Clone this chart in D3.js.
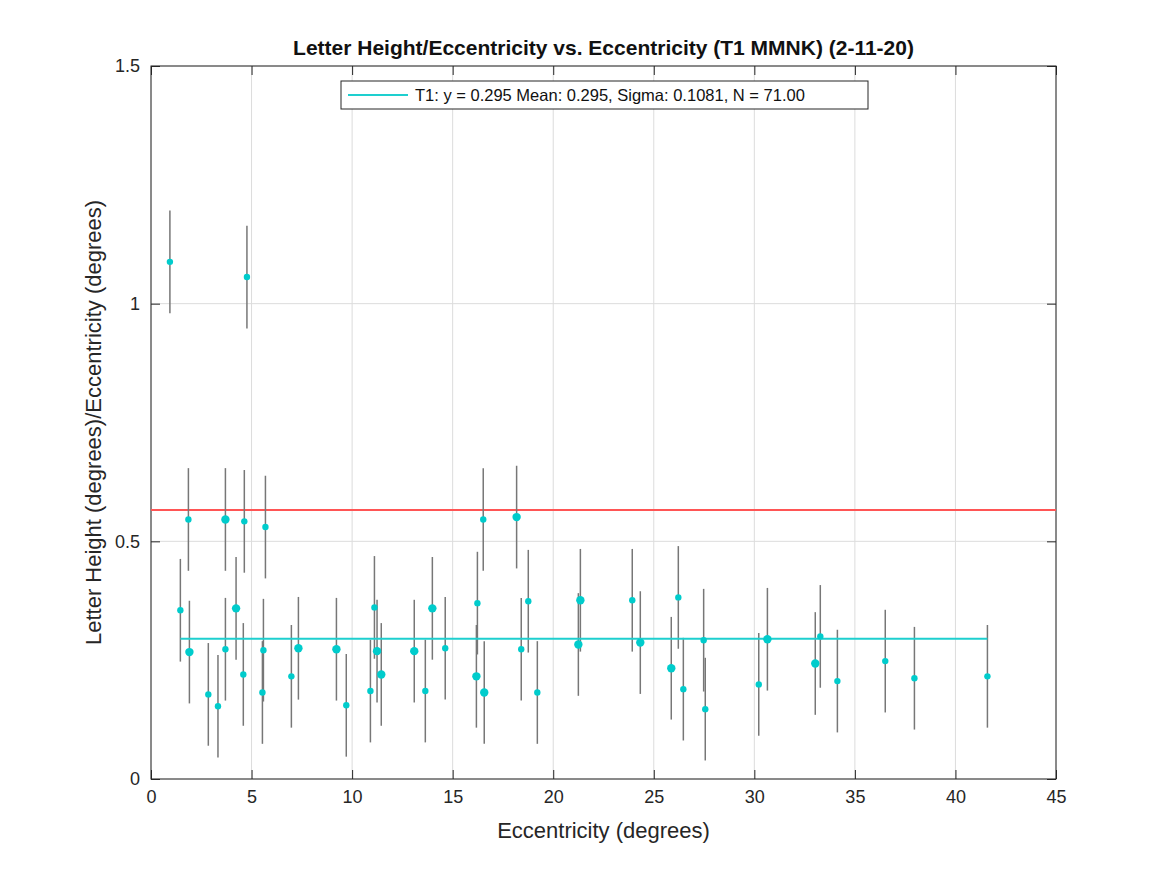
<!DOCTYPE html>
<html><head><meta charset="utf-8">
<script src="https://cdn.jsdelivr.net/npm/d3@7"></script>
<style>body{margin:0;background:#fff;font-family:"Liberation Sans",Arial,sans-serif}</style>
</head><body><svg id="c" width="1167" height="875"></svg>
<script>
const xs=[0.94,4.77,1.46,1.86,1.91,2.85,3.33,3.70,3.70,4.23,4.64,4.59,5.69,5.59,5.54,6.98,7.33,9.22,9.71,10.91,11.11,11.24,11.45,13.09,13.64,13.99,14.63,16.23,16.18,16.52,16.57,18.18,18.76,18.41,19.21,21.35,21.25,23.93,24.33,26.22,25.87,26.47,27.48,27.56,30.22,30.65,33.03,33.28,34.13,36.51,37.96,41.59];
const ys=[1.088,1.056,0.355,0.546,0.267,0.178,0.153,0.546,0.273,0.359,0.542,0.220,0.530,0.271,0.182,0.216,0.275,0.273,0.155,0.185,0.361,0.269,0.220,0.269,0.185,0.359,0.275,0.370,0.216,0.546,0.182,0.551,0.374,0.273,0.182,0.376,0.283,0.376,0.287,0.382,0.233,0.189,0.292,0.147,0.199,0.294,0.243,0.300,0.206,0.248,0.212,0.216];
const big=[0,0,0,0,1,0,0,1,0,1,0,0,0,0,0,0,1,1,0,0,0,1,1,1,0,1,0,0,1,0,1,1,0,0,0,1,1,0,1,0,1,0,0,0,0,1,1,0,0,0,0,0];
const sigma=0.108;
const meanVal=0.295, redVal=0.566;
const xTicks=[0,5,10,15,20,25,30,35,40,45];
const yTicks=[0,0.5,1,1.5];
const svg=d3.select("#c");
const L=151,R=1056,T=66,B=779;
const x=d3.scaleLinear().domain([0,45]).range([L,R]);
const y=d3.scaleLinear().domain([0,1.5]).range([B,T]);
const g=svg.append("g");
g.selectAll(".gx").data(xTicks).enter().append("line").attr("x1",d=>x(d)).attr("x2",d=>x(d)).attr("y1",T).attr("y2",B).attr("stroke","#dcdcdc");
g.selectAll(".gy").data(yTicks).enter().append("line").attr("y1",d=>y(d)).attr("y2",d=>y(d)).attr("x1",L).attr("x2",R).attr("stroke","#dcdcdc");
svg.append("rect").attr("x",L).attr("y",T).attr("width",R-L).attr("height",B-T).attr("fill","none").attr("stroke","#262626");
const xa=svg.append("g").attr("transform",`translate(0,${B})`).call(d3.axisBottom(x).tickValues(xTicks).tickSize(-9).tickPadding(11).tickFormat(d3.format("d")));
const xa2=svg.append("g").attr("transform",`translate(0,${T})`).call(d3.axisTop(x).tickValues(xTicks).tickSize(-9).tickFormat(""));
const ya=svg.append("g").attr("transform",`translate(${L},0)`).call(d3.axisLeft(y).tickValues(yTicks).tickSize(-9).tickPadding(11).tickFormat(d=>d));
const ya2=svg.append("g").attr("transform",`translate(${R},0)`).call(d3.axisRight(y).tickValues(yTicks).tickSize(-9).tickFormat(""));
[xa,xa2,ya,ya2].forEach(a=>{a.select(".domain").remove();a.selectAll("line").attr("stroke","#262626");a.selectAll("text").attr("font-size",18).attr("fill","#262626").attr("font-family","Liberation Sans, Arial")});
svg.append("line").attr("x1",L).attr("x2",R).attr("y1",y(redVal)).attr("y2",y(redVal)).attr("stroke","#ff5555").attr("stroke-width",2);
const idx=d3.range(xs.length);
svg.selectAll(".eb").data(idx).enter().append("line").attr("x1",i=>x(xs[i])).attr("x2",i=>x(xs[i])).attr("y1",i=>y(ys[i]-sigma)).attr("y2",i=>y(ys[i]+sigma)).attr("stroke","#777").attr("stroke-width",1.5);
svg.append("line").attr("x1",x(d3.min(xs.slice(2)))).attr("x2",x(d3.max(xs))).attr("y1",y(meanVal)).attr("y2",y(meanVal)).attr("stroke","#1ecfcf").attr("stroke-width",2);
svg.selectAll(".pt").data(idx).enter().append("circle").attr("cx",i=>x(xs[i])).attr("cy",i=>y(ys[i])).attr("r",i=>big[i]?4.2:3.2).attr("fill","#00cccc");
svg.append("rect").attr("x",341).attr("y",81).attr("width",527).attr("height",28).attr("fill","#fff").attr("stroke","#262626");
svg.append("line").attr("x1",348).attr("x2",408).attr("y1",95).attr("y2",95).attr("stroke","#1ecfcf").attr("stroke-width",2);
svg.append("text").attr("x",415).attr("y",101).attr("font-size",16.5).attr("fill","#111").text("T1: y = 0.295 Mean: 0.295, Sigma: 0.1081, N = 71.00");
svg.append("text").attr("x",(L+R)/2).attr("y",55).attr("text-anchor","middle").attr("font-size",21).attr("font-weight","bold").attr("fill","#111").text("Letter Height/Eccentricity vs. Eccentricity (T1 MMNK) (2-11-20)");
svg.append("text").attr("x",(L+R)/2).attr("y",838).attr("text-anchor","middle").attr("font-size",22).attr("fill","#262626").text("Eccentricity (degrees)");
svg.append("text").attr("transform",`translate(101,${(T+B)/2}) rotate(-90)`).attr("text-anchor","middle").attr("font-size",22).attr("fill","#262626").text("Letter Height (degrees)/Eccentricity (degrees)");
</script></body></html>
